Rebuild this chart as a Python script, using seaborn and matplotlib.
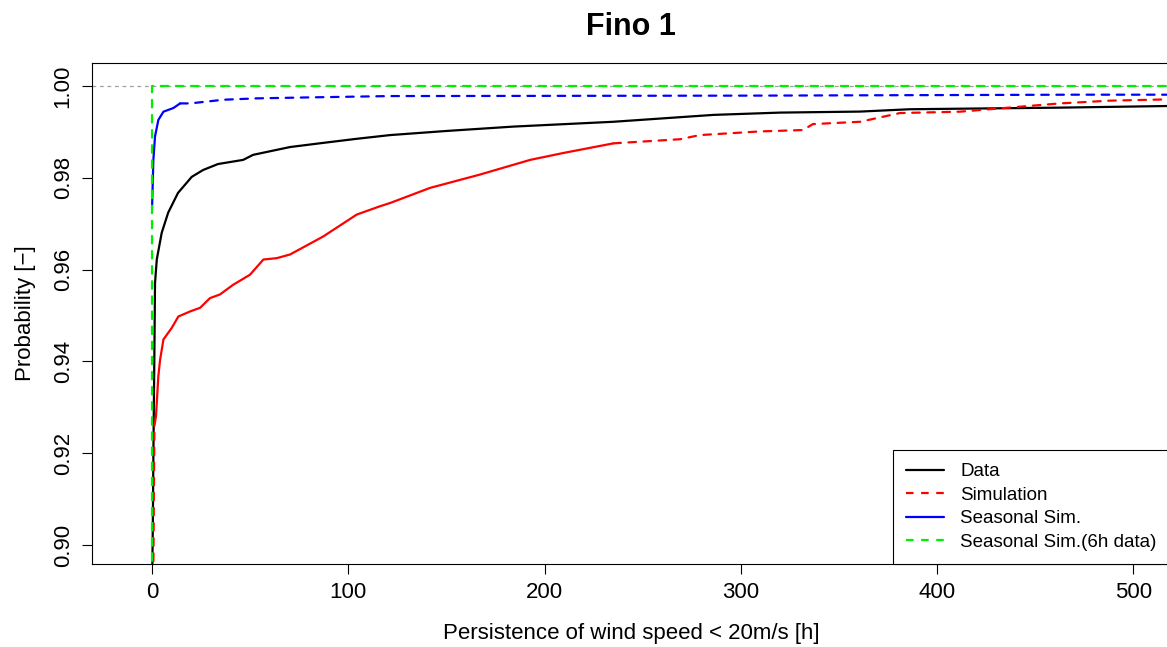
import numpy as np
import pandas as pd
import matplotlib
matplotlib.use("Agg")
import matplotlib.pyplot as plt
from matplotlib.lines import Line2D
import seaborn as sns

# ---------------- data ----------------
data_x = [0, 0.4, 0.7, 1.2, 1.5, 2.4, 4.9, 8.2, 13.2, 20.2, 26, 33.6, 46.4, 51.5,
          70.3, 87.1, 104.4, 121.2, 150, 184, 235, 286, 320, 360.7, 386, 462.6, 520]
data_y = [0.890, 0.905, 0.921, 0.9426, 0.957, 0.9622, 0.968, 0.9724, 0.9767, 0.9802,
          0.9817, 0.983, 0.9839, 0.985, 0.9867, 0.9876, 0.9885, 0.9893, 0.9902,
          0.99115, 0.9922, 0.9937, 0.9942, 0.99442, 0.99493, 0.99528, 0.99565]

sim_x = [0.6, 0.9, 1.2, 2.0, 3.2, 4.1, 5.8, 10, 13.4, 19.4, 24.5, 29.5, 34.6, 41.3,
         49.9, 56.7, 63.5, 70.3, 87.1, 104.3, 116.1, 121.2, 141.6, 167, 192.6, 209.5,
         235, 269, 279, 309.7, 331.6, 336.7, 360.7, 381, 411.6, 437, 462.6, 488, 520]
sim_y = [0.890, 0.910, 0.926, 0.9281, 0.9368, 0.9404, 0.9448, 0.9473, 0.9498, 0.9509,
         0.9517, 0.9538, 0.9546, 0.9567, 0.9589, 0.9622, 0.9625, 0.9633, 0.9672,
         0.9720, 0.9738, 0.9745, 0.9778, 0.9807, 0.9839, 0.9854, 0.9875, 0.9884,
         0.9893, 0.9901, 0.9904, 0.9917, 0.9922, 0.9941, 0.9944, 0.9953, 0.9962,
         0.9968, 0.9971]

seas_x = [0, 0.66, 1.5, 3.2, 5.8, 10.9, 14.3, 19.4, 36.3, 53.3, 78.8, 121.2, 310, 471, 520]
seas_y = [0.9735, 0.9839, 0.989, 0.9926, 0.9944, 0.9952, 0.9962, 0.9962, 0.997,
          0.9973, 0.9975, 0.9978, 0.9979, 0.9981, 0.9981]

seas6_x = [0, 0, 520]
seas6_y = [0.890, 1.000, 1.000]

ref_level = 1.0
x_ticks = [0, 100, 200, 300, 400, 500]
y_ticks = [0.90, 0.92, 0.94, 0.96, 0.98, 1.00]
y_tick_labels = ["0.90", "0.92", "0.94", "0.96", "0.98", "1.00"]
series_names = ["Data", "Simulation", "Seasonal Sim.", "Seasonal Sim.(6h data)"]
title = "Fino 1"
x_label = "Persistence of wind speed < 20m/s [h]"
y_label = "Probability [\u2212]"

# ---------------- styling ----------------
sns.set_style("ticks")
plt.rcParams["font.family"] = ["Liberation Sans", "DejaVu Sans"]
plt.rcParams["axes.linewidth"] = 0.8
for key in ["text.color", "axes.labelcolor", "xtick.color", "ytick.color",
            "axes.edgecolor"]:
    plt.rcParams[key] = "black"

W, H = 1167, 647
fig = plt.figure(figsize=(W / 100, H / 100), dpi=100)
ax = fig.add_axes([92 / W, (H - 564) / H, (1170 - 92) / W, (564 - 63) / H])

LW = 1.6
DASH = (3.4, 3.4)

def frame(xs, ys):
    return pd.DataFrame({"x": xs, "y": ys})

def part(df, lo, hi):
    return df[(df["x"] >= lo) & (df["x"] <= hi)]

d_data = frame(data_x, data_y)
d_sim = frame(sim_x, sim_y)
d_seas = frame(seas_x, seas_y)
d_seas6 = frame(seas6_x, seas6_y)

# grey reference line
ax.axhline(ref_level, color="#a0a0a0", lw=0.9, ls=(0, (3, 3)), zorder=1)

def draw(df, color, dashed, z):
    kw = dict(x="x", y="y", estimator=None, sort=False, ax=ax, color=color,
              lw=LW, zorder=z)
    line_ax = sns.lineplot(data=df, **kw)
    ln = line_ax.lines[-1]
    ln.set_solid_capstyle("round")
    ln.set_solid_joinstyle("round")
    if dashed:
        ln.set_dashes(DASH)
        ln.set_dash_capstyle("round")

draw(d_data, "black", False, 3)
# simulation: dense part renders solid, sparse parts dashed
draw(part(d_sim, 0, 1.2), "red", True, 4)
draw(part(d_sim, 1.2, 235), "red", False, 4)
draw(part(d_sim, 235, 600), "red", True, 4)
# seasonal: dense start solid, flat part dashed
draw(part(d_seas, 0, 14.3), "blue", False, 5)
draw(part(d_seas, 14.3, 600), "blue", True, 5)
draw(d_seas6, "#00ee00", True, 6)

ax.set_xlim(-30.6, 518.6)
ax.set_ylim(0.8959, 1.005)
ax.set_xticks(x_ticks)
ax.set_xticklabels([str(t) for t in x_ticks])
ax.set_yticks(y_ticks)
ax.set_yticklabels(y_tick_labels, rotation=90, va="center")
ax.tick_params(axis="both", direction="out", length=7.2, width=0.8,
               labelsize=16, color="black", labelcolor="black")
ax.tick_params(axis="x", pad=6)
ax.tick_params(axis="y", pad=6)
for s in ax.spines.values():
    s.set_visible(True)
    s.set_color("black")

ax.set_title(title, fontsize=22, fontweight="bold", pad=20, color="black")
ax.set_xlabel(x_label, fontsize=16, labelpad=14, color="black")
ax.set_ylabel(y_label, fontsize=16, labelpad=12, color="black")

handles = [
    Line2D([], [], color="black", lw=LW),
    Line2D([], [], color="red", lw=LW, dashes=DASH),
    Line2D([], [], color="blue", lw=LW),
    Line2D([], [], color="#00ee00", lw=LW, dashes=DASH),
]
leg = ax.legend(handles, series_names, loc="lower right", bbox_to_anchor=(1.0, 0.0),
                borderaxespad=0, fontsize=13.5, frameon=True, fancybox=False,
                framealpha=1, edgecolor="black", handlelength=2.0,
                handletextpad=0.9, borderpad=0.7, labelspacing=0.34)
leg.get_frame().set_linewidth(0.8)
for t in leg.get_texts():
    t.set_color("black")

fig.savefig("out.png", dpi=100)
